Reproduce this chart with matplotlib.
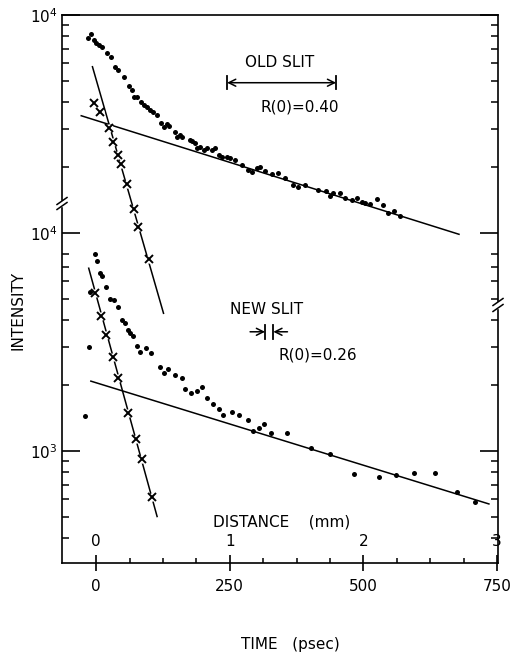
import matplotlib
matplotlib.use('Agg')
import matplotlib.pyplot as plt
from matplotlib.lines import Line2D
from matplotlib.patches import Rectangle
import numpy as np

plt.rcParams['font.family'] = 'DejaVu Sans'
plt.rcParams['mathtext.default'] = 'regular'

# old slit (upper panel, drawn one decade higher on the broken axis)
old_t = [-16, -9, -5, 0, 6, 11, 20, 27, 36, 41, 52, 61, 67, 71, 77, 84, 90, 95, 101, 107,
         114, 122, 127, 133, 137, 148, 151, 157, 160, 175, 179, 185, 188, 195, 201, 207, 216, 223, 229, 235,
         244, 251, 260, 273, 285, 291, 301, 307, 316, 329, 341, 354, 369, 378, 391, 416, 431, 438, 444, 456,
         466, 478, 488, 497, 503, 512, 525, 537, 547, 557, 569]
old_I = [7820, 8150, 7680, 7420, 7280, 7160, 6670, 6440, 5790, 5600, 5210, 4720, 4530, 4220, 4190, 4000, 3860, 3770, 3670, 3600,
         3480, 3210, 3070, 3160, 3080, 2920, 2770, 2820, 2750, 2670, 2630, 2580, 2450, 2490, 2400, 2450, 2400, 2450, 2280, 2240,
         2220, 2200, 2160, 2050, 1950, 1910, 1980, 2010, 1930, 1870, 1890, 1780, 1660, 1630, 1660, 1570, 1550, 1470, 1520, 1520,
         1440, 1420, 1440, 1390, 1370, 1360, 1430, 1340, 1240, 1260, 1200]
old_xt = [-4, 8, 24, 32, 40, 46, 57, 71, 79, 98]
old_xI = [3940, 3600, 3020, 2620, 2280, 2070, 1670, 1290, 1060, 757]
old_slow_t = [-28, 679]
old_slow_I = [3450, 986]
old_fast_t = [-7, 126]
old_fast_I = [5790, 428]

# new slit (lower panel)
new_t = [-21, -13, -11, -3, 2, 8, 11, 18, 25, 34, 40, 48, 54, 59, 64, 68, 76, 82, 93, 102,
         120, 127, 135, 148, 160, 166, 178, 188, 198, 207, 219, 229, 238, 255, 267, 285, 294, 305, 314, 327,
         357, 402, 438, 483, 529, 561, 595, 635, 676, 709]
new_I = [1450, 3010, 5380, 8010, 7410, 6570, 6370, 5640, 4960, 4900, 4560, 3990, 3850, 3590, 3490, 3370, 3030, 2850, 2960, 2820,
         2420, 2270, 2370, 2230, 2150, 1920, 1840, 1880, 1970, 1750, 1640, 1550, 1460, 1510, 1460, 1380, 1230, 1270, 1330, 1210,
         1210, 1030, 966, 784, 757, 778, 790, 790, 650, 585]
new_xt = [-2, 9, 19, 31, 41, 60, 74, 86, 105]
new_xI = [5290, 4180, 3420, 2700, 2150, 1500, 1140, 915, 615]
new_slow_t = [-10, 735]
new_slow_I = [2090, 571]
new_fast_t = [-14, 114]
new_fast_I = [6890, 500]

offset = 10   # upper curves shifted by one decade

time_ticks = [0, 250, 500, 750]
dist_labels = ['0', '1', '2', '3']

W, H = 518, 659
fig = plt.figure(figsize=(W/100, H/100), dpi=100)
ax = fig.add_axes([62/W, 1-563/H, (498-62)/W, (563-15)/H])
ax.set_yscale('log')
ax.set_xlim(-64, 752)
ax.set_ylim(306, 1e5)

lw = 1.1
k = 'black'
def curve(t, I, f=1):
    return np.array(t), np.array(I)*f

# fitted lines
for t, I, f in [(old_slow_t, old_slow_I, offset), (old_fast_t, old_fast_I, offset),
                (new_slow_t, new_slow_I, 1), (new_fast_t, new_fast_I, 1)]:
    x, y = curve(t, I, f)
    ax.plot(x, y, color=k, lw=lw, zorder=2)

# crosses, with small white gap in the line
for t, I, f in [(old_xt, old_xI, offset), (new_xt, new_xI, 1)]:
    x, y = curve(t, I, f)
    ax.plot(x, y, 'o', ms=6, color='white', mec='none', zorder=3)
    ax.plot(x, y, 'x', ms=5.5, mew=1.4, color=k, zorder=4)

# dots
for t, I, f in [(old_t, old_I, offset), (new_t, new_I, 1)]:
    x, y = curve(t, I, f)
    ax.plot(x, y, 'o', ms=3.6, color=k, mec='none', zorder=5)

# axes style
for s in ax.spines.values():
    s.set_linewidth(1.2)
ax.set_xticks(time_ticks)
ax.set_xticklabels([str(v) for v in time_ticks], fontsize=11)
ax.set_xticks(np.arange(62.5, 750, 62.5), minor=True)
ax.tick_params(axis='x', which='major', direction='inout', length=11, width=1.2, pad=6, top=False)
ax.tick_params(axis='x', which='minor', direction='in', length=3.5, width=1.1, top=False)

ax.set_yticks([1e3, 1e4, 1e5])
ax.set_yticklabels(['$10^3$', '$10^4$', '$10^4$'], fontsize=11)
ymin = [400, 500, 600, 700, 800, 900, 2000, 3000, 4000, 5000, 6000, 7000, 8000,
        20000, 30000, 40000, 50000, 60000, 70000, 80000, 90000]
ax.set_yticks(ymin, minor=True)
ax.yaxis.set_minor_formatter(plt.NullFormatter())
ax.tick_params(axis='y', which='major', direction='in', length=13, width=1.2, pad=3, right=True)
ax.tick_params(axis='y', which='minor', direction='in', length=5, width=1.1, right=True)

# distance scale inside the plot
tr = ax.get_xaxis_transform()
for v, lab in zip(time_ticks, dist_labels):
    ax.text(v, 0.040, lab, transform=tr, ha='center', va='center', fontsize=11)
ax.text(219, 0.075, 'DISTANCE    (mm)', transform=tr, ha='left', va='center', fontsize=11)

# old slit annotation
ax.text(344, 60300, 'OLD SLIT', ha='center', va='center', fontsize=11)
ya = 48900
ax.annotate('', xy=(245, ya), xytext=(449, ya),
            arrowprops=dict(arrowstyle='<->,head_length=0.5,head_width=0.25', lw=1.1, color=k,
                            shrinkA=0, shrinkB=0))
for xb in (245, 449):
    ax.plot([xb, xb], [ya*0.94, ya*1.07], color=k, lw=1.3)
ax.text(381, 37900, 'R(0)=0.40', ha='center', va='center', fontsize=11)

# new slit annotation
ax.text(318, 4440, 'NEW SLIT', ha='center', va='center', fontsize=11)
yb = 3520
for xb in (316, 331.5):
    ax.plot([xb, xb], [yb*0.93, yb*1.08], color=k, lw=1.3)
ax.annotate('', xy=(316, yb), xytext=(288, yb),
            arrowprops=dict(arrowstyle='->,head_length=0.5,head_width=0.25', lw=1.1, color=k,
                            shrinkA=0, shrinkB=0))
ax.annotate('', xy=(331.5, yb), xytext=(358, yb),
            arrowprops=dict(arrowstyle='->,head_length=0.5,head_width=0.25', lw=1.1, color=k,
                            shrinkA=0, shrinkB=0))
ax.text(415, 2750, 'R(0)=0.26', ha='center', va='center', fontsize=11)

# axis titles
fig.text(18/W, 1-310/H, 'INTENSITY', rotation=90, ha='center', va='center', fontsize=11)
fig.text(290/W, 1-645/H, 'TIME   (psec)', ha='center', va='center', fontsize=11)

# axis break marks
def P(x, y):
    return x/W, 1-y/H
def brk(xs, y1, y2, dx, dy):
    fig.add_artist(Rectangle(P(xs-2.5, y2), 5/W, (y2-y1)/H, transform=fig.transFigure,
                             color='white', zorder=10))
    for yy in (y1, y2):
        (ax0, ay0), (ax1, ay1) = P(xs-dx, yy+dy), P(xs+dx, yy-dy)
        fig.add_artist(Line2D([ax0, ax1], [ay0, ay1], color=k, lw=1.1, zorder=11))
brk(62, 201, 206, 5, 3.5)
brk(498, 302, 308, 5, 3.5)

fig.savefig('out.png', dpi=100)
